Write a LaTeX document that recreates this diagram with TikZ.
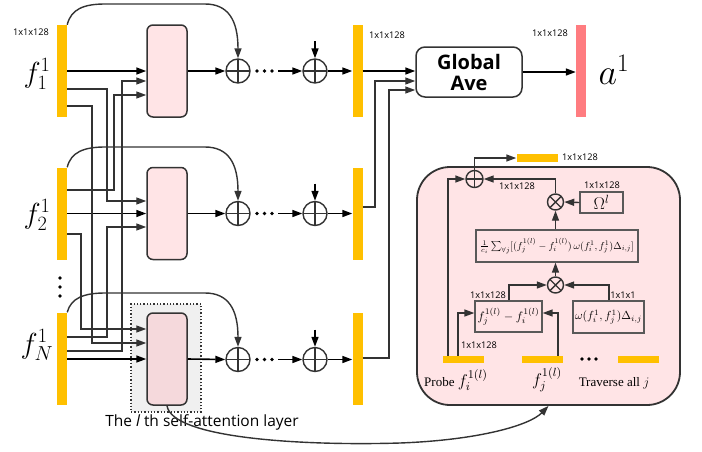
\RequirePackage{fix-cm}
\documentclass[tikz,border=0pt]{standalone}
\usepackage{fontspec}
\usepackage{graphicx}
\setmainfont{Liberation Serif}
\newfontfamily\labelfont{Open Sans}
\usetikzlibrary{arrows.meta}

\definecolor{barYellow}{HTML}{FFC000}
\definecolor{barRed}{HTML}{FF7C80}
\definecolor{boxPink}{HTML}{FFE4E6}
\definecolor{boxPinkDark}{HTML}{F5D9DC}
\definecolor{lineDark}{HTML}{333333}
\definecolor{innerGray}{HTML}{595959}
\definecolor{layerGray}{HTML}{F0F0F0}

\begin{document}
\begin{tikzpicture}[x=1pt,y=-1pt,
  tip/.style={-{Triangle[length=10pt,width=7pt]}},
  mainline/.style={line width=1.6pt, draw=black},
  wire/.style={line width=1.4pt, draw=lineDark},
  vbar/.style={fill=barYellow, minimum width=10pt, minimum height=92pt, inner sep=0},
  hbar/.style={fill=barYellow, minimum width=41pt, minimum height=7.5pt, inner sep=0},
  attbox/.style={draw=lineDark, line width=1.5pt, rounded corners=6pt, fill=boxPink,
    minimum width=40pt, minimum height=92pt, inner sep=0},
  sumnode/.style={circle, draw=lineDark, line width=1.4pt, minimum size=#1, inner sep=0,
    path picture={\draw[lineDark,line width=1.4pt]
      (path picture bounding box.north)--(path picture bounding box.south)
      (path picture bounding box.west)--(path picture bounding box.east);}},
  prodnode/.style={circle, draw=lineDark, line width=1.4pt, minimum size=#1, inner sep=0,
    path picture={\draw[lineDark,line width=1.4pt]
      (path picture bounding box.north west)--(path picture bounding box.south east)
      (path picture bounding box.south west)--(path picture bounding box.north east);}},
  dimlabel/.style={font=\labelfont\fontsize{9.2}{10}\selectfont, inner sep=0},
  featlabel/.style={font=\fontsize{29}{31}\selectfont, inner sep=0},
  innerbox/.style={draw=innerGray, line width=1.3pt, inner sep=0},
  seriflabel/.style={font=\fontsize{13}{15}\selectfont, inner sep=0},
  dot/.style={fill=black, circle, inner sep=0, minimum size=3.6pt}
]
\useasboundingbox (0,0) rectangle (702,451);

% ---------- self-attention layer frame (last row) ----------
\node[draw=lineDark, dotted, line width=1.3pt, fill=layerGray,
      minimum width=70pt, minimum height=108pt, inner sep=0] (frame) at (166,358) {};

% ---------- input feature bars ----------
\node[vbar] (b1) at (62,71) {};
\node[vbar] (b2) at (62,213.5) {};
\node[vbar] (bN) at (62,358.5) {};
\node[dimlabel] (lb1) at (31,32) {1x1x128};
\node[featlabel] (f1) at (37,74) {$f_1^1$};
\node[featlabel] (f2) at (37,215) {$f_2^1$};
\node[featlabel] (fN) at (37,345) {$f_N^1$};
\node[dot] (vd1) at (60,278) {};
\node[dot] (vd2) at (60,287) {};
\node[dot] (vd3) at (60,296) {};

% ---------- attention blocks ----------
\node[attbox] (a1) at (167,71) {};
\node[attbox] (a2) at (167,213.5) {};
\node[attbox, fill=boxPinkDark] (aN) at (167,359) {};

% ---------- residual sums ----------
\node[sumnode=24pt] (sA1) at (238,71) {};
\node[sumnode=24pt] (sA2) at (238,213.5) {};
\node[sumnode=24pt] (sAN) at (238,359.5) {};
\node[sumnode=24pt] (sB1) at (315,71) {};
\node[sumnode=24pt] (sB2) at (315,213.5) {};
\node[sumnode=24pt] (sBN) at (315,359.5) {};

% ---------- output bars ----------
\node[vbar] (r1) at (357.5,71) {};
\node[vbar] (r2) at (357.5,213.5) {};
\node[vbar] (rN) at (357.5,358.5) {};
\node[dimlabel] (lr1) at (387,35) {1x1x128};

% ---------- global average and result ----------
\node[draw=lineDark, line width=1.5pt, rounded corners=9pt, minimum width=106pt,
      minimum height=50pt, align=center, inner sep=0,
      font=\labelfont\bfseries\fontsize{20}{21}\selectfont] (gave) at (469,72) {Global\\Ave};
\node[fill=barRed, minimum width=10pt, minimum height=92pt, inner sep=0] (abar) at (581,71) {};
\node[dimlabel] (labar) at (550,33) {1x1x128};
\node[font=\fontsize{36}{38}\selectfont, inner sep=0] (alab) at (614,70) {$a^1$};

% ---------- main row arrows ----------
\foreach \i in {1,2,N}{
  \draw[mainline,tip] (b\i.east |- a\i.west) -- (a\i.west);
  \draw[mainline,tip] (a\i.east) -- (sA\i.west);
}
\foreach \i/\y in {1/71,2/213.5,N/359.5}{
  \node[dot] (dA\i) at (257,\y) {};
  \node[dot] (dB\i) at (264.5,\y) {};
  \node[dot] (dC\i) at (272,\y) {};
  \coordinate (ds\i) at (278,\y);
  \coordinate (tp\i) at (315,\y-30);
  \draw[mainline,tip] (ds\i) -- (sB\i.west);
  \draw[mainline,tip] (tp\i) -- (sB\i.north);
  \draw[mainline,tip] (sB\i.east) -- (r\i.west |- sB\i.east);
}

% ---------- cross connections between rows ----------
\draw[wire,tip] (b1.east |- 0,89)  -| (107,201) -- (a2.west |- 0,201);
\draw[wire,tip] (b1.east |- 0,106) -| (92,343)  -- (aN.west |- 0,343);
\draw[wire,tip] (b2.east |- 0,190) -| (114,95)  -- (a1.west |- 0,95);
\draw[wire,tip] (b2.east |- 0,234) -| (81,329)  -- (aN.west |- 0,329);
\draw[wire,tip] (bN.east |- 0,337) -| (107,227) -- (a2.west |- 0,227);
\draw[wire,tip] (bN.east |- 0,351) -| (122,81)  -- (a1.west |- 0,81);

% ---------- skip connections ----------
\draw[wire,tip] (b1.north east) .. controls (71,9) and (84,4) .. (105,4) -- (205,4)
   .. controls (228,4) and (238,20) .. (sA1.north);
\draw[wire,tip] (b2.north east) .. controls (71,152) and (84,147) .. (105,147) -- (205,147)
   .. controls (228,147) and (238,163) .. (sA2.north);
\draw[wire,tip] (bN.north east) .. controls (71,298) and (84,293) .. (105,293) -- (205,293)
   .. controls (228,293) and (238,309) .. (sAN.north);

% ---------- into the global average ----------
\draw[mainline,tip] (r1.east |- 0,71) -- (gave.west |- 0,71);
\draw[wire,tip] (r2.east |- 0,207) -| (375,81) -- (gave.west |- 0,81);
\draw[wire,tip] (rN.east |- 0,358) -| (389,90) -- (gave.west |- 0,90);
\draw[mainline,tip] (gave.east |- 0,72) -- (abar.west |- 0,72);

\node[font=\labelfont\fontsize{15.5}{18}\selectfont, inner sep=0] (layerlbl) at (202,422)
  {The {\itshape l} th self-attention layer};

% ---------- detail panel ----------
\node[draw=lineDark, line width=1.8pt, rounded corners=33pt, fill=boxPink,
      minimum width=263pt, minimum height=238pt, inner sep=0] (panel) at (548.5,286) {};
\draw[wire,tip] (aN.south) .. controls (172,438) and (300,446) .. (400,443)
   .. controls (480,440) and (530,425) .. (panel.south);

\node[sumnode=17pt] (pSum) at (474.5,179) {};
\node[prodnode=16pt] (pProd1) at (555.5,202) {};
\node[prodnode=16pt] (pProd2) at (555.5,285) {};
\node[hbar] (outbar) at (537,158) {};
\node[dimlabel] (loutbar) at (580,157.5) {1x1x128};
\node[innerbox, minimum width=43pt, minimum height=21pt,
      font=\fontsize{17}{18}\selectfont] (omega) at (601.5,202.5) {$\Omega^l$};
\node[dimlabel] (lomega) at (602,185) {1x1x128};
\node[dimlabel] (lsum) at (517,186) {1x1x128};
\node[innerbox, minimum width=162pt, minimum height=32pt] (formula) at (557,246)
  {\resizebox{154pt}{!}{$\frac{1}{c_i}\sum_{\forall j}[(f_j^{1(l)}-f_i^{1(l)})\,\omega(f_i^1,f_j^1)\Delta_{i,j}]$}};
\node[innerbox, minimum width=67pt, minimum height=31pt] (diff) at (508.5,316.5)
  {\resizebox{62pt}{!}{$f_j^{1(l)}-f_i^{1(l)}$}};
\node[innerbox, minimum width=71pt, minimum height=32pt] (weight) at (608.5,317)
  {\resizebox{67pt}{!}{$\omega(f_i^1,f_j^1)\Delta_{i,j}$}};
\node[dimlabel] (ldiff) at (488,295) {1x1x128};
\node[dimlabel] (lweight) at (623,295.5) {1x1x1};
\node[dimlabel] (lprobe) at (479,345) {1x1x128};

\node[hbar] (probe) at (463.5,359.5) {};
\node[hbar] (fjbar) at (542,359.5) {};
\node[hbar] (allbar) at (638.5,359.5) {};
\node[dot] (hd1) at (582,359) {};
\node[dot] (hd2) at (589,359) {};
\node[dot] (hd3) at (596,359) {};

\node[seriflabel] (tprobe) at (456,380) {Probe \scalebox{1.3}{$f_i^{1(l)}$}};
\node[seriflabel] (tfj) at (547,380) {\scalebox{1.3}{$f_j^{1(l)}$}};
\node[seriflabel] (tall) at (614,383) {Traverse all $j$};

\draw[wire,tip] (pSum.north) |- (outbar.west);
\draw[wire,tip] (probe.north -| 448,0) |- (pSum.west);
\draw[wire,tip] (pProd1.north) |- (pSum.east);
\draw[wire,tip] (omega.west) -- (pProd1.east);
\draw[wire,tip] (formula.north -| pProd1.south) -- (pProd1.south);
\draw[wire,tip] (pProd2.north) -- (pProd2.north |- formula.south);
\draw[wire,tip] (diff.north -| 509,0) |- (pProd2.west);
\draw[wire,tip] (weight.north -| 609,0) |- (pProd2.east);
\draw[wire,tip] (probe.north -| 458,0) |- (diff.west |- 0,313);
\draw[wire,tip] (fjbar.north -| 558,0) |- (diff.east |- 0,313);
\end{tikzpicture}
\end{document}
